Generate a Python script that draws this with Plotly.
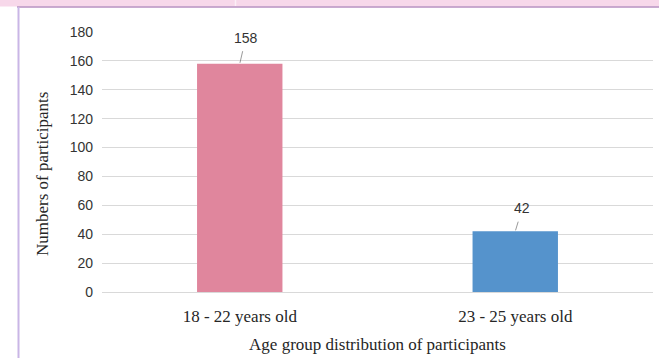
import plotly.graph_objects as go

# Age groups and participant counts
age_groups = ["18 - 22 years old", "23 - 25 years old"]
participants = [158, 42]
bar_colors = ["#E0869D", "#5593CC"]
y_ticks = [0, 20, 40, 60, 80, 100, 120, 140, 160, 180]

W, H = 659, 358
L, R, T, B = 102, 6, 32, 66
PW, PH = W - L - R, H - T - B


def px_x(p):
    return (p - L) / PW


def px_y(p):
    return (H - B - p) / PH


fig = go.Figure()
fig.add_trace(go.Bar(
    x=age_groups,
    y=participants,
    marker=dict(color=bar_colors, line=dict(width=0)),
    width=0.31,
    hoverinfo="x+y",
))

# Value labels with short leader lines
label_offsets = [(6, -26), (7, -23)]
for cat, val, (ax, ay) in zip(age_groups, participants, label_offsets):
    fig.add_annotation(
        x=cat, y=val, text=str(val),
        showarrow=True, arrowhead=0, arrowwidth=0.8, arrowcolor="#7f7f7f",
        ax=ax, ay=ay, startstandoff=4, standoff=1,
        font=dict(family="Liberation Sans", size=14, color="#333333"),
    )

# Vertical axis title
fig.add_annotation(
    xref="paper", yref="paper", x=px_x(42), y=px_y(174),
    text="Numbers of participants", textangle=-90, showarrow=False,
    xanchor="center", yanchor="middle",
    font=dict(family="Liberation Serif", size=17, color="#262626"),
)

shapes = [
    # top banner strip
    dict(type="rect", xref="paper", yref="paper",
         x0=px_x(0), x1=px_x(W), y0=px_y(0), y1=px_y(6.5),
         fillcolor="#F7D8EA", line=dict(width=0), layer="below"),
    dict(type="line", xref="paper", yref="paper",
         x0=px_x(235.5), x1=px_x(235.5), y0=px_y(0), y1=px_y(6),
         line=dict(color="#FBEFF6", width=1.5)),
    dict(type="line", xref="paper", yref="paper",
         x0=px_x(17), x1=px_x(W), y0=px_y(7), y1=px_y(7),
         line=dict(color="#B78FC0", width=1.6)),
    # left frame border
    dict(type="line", xref="paper", yref="paper",
         x0=px_x(18.5), x1=px_x(18.5), y0=px_y(7), y1=px_y(H),
         line=dict(color="#C9B6E6", width=2)),
]

fig.update_layout(
    width=W, height=H,
    margin=dict(l=L, r=R, t=T, b=B, pad=0),
    paper_bgcolor="white", plot_bgcolor="white",
    showlegend=False,
    bargap=0.69,
    shapes=shapes,
    xaxis=dict(
        showgrid=False, showline=False, zeroline=False, ticks="",
        tickfont=dict(family="Liberation Serif", size=17, color="#262626"),
        ticklabelstandoff=12,
        title=dict(text="Age group distribution of participants",
                   font=dict(family="Liberation Serif", size=17, color="#262626"),
                   standoff=13),
    ),
    yaxis=dict(
        range=[0, 180], tickvals=y_ticks,
        showgrid=True, gridcolor="#D9D9D9", gridwidth=1,
        zeroline=True, zerolinecolor="#D9D9D9", zerolinewidth=1,
        showline=False, ticks="",
        tickfont=dict(family="Liberation Sans", size=14, color="#333333"),
        ticklabelstandoff=8,
    ),
)

fig.write_html("out.html")
